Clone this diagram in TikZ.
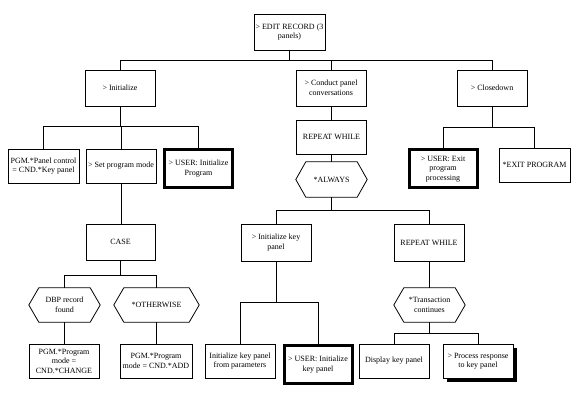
\documentclass[tikz,border=0pt]{standalone}
\usepackage{fontspec}
\setmainfont{Liberation Serif}
\usetikzlibrary{shadows}
\newcommand{\boxfont}{\fontsize{8}{9.5}\selectfont}
\tikzset{
  conn/.style={draw=black, line width=0.8pt},
  box/.style={draw=black, line width=0.8pt, fill=white, minimum width=70pt, minimum height=34pt,
    inner sep=1pt, align=center, font=\boxfont},
  thickbox/.style={draw=black, line width=3pt, fill=white, minimum width=68pt, minimum height=38pt,
    inner sep=1pt, align=center, font=\boxfont},
  hexbox/.style={draw=none, minimum width=71pt, minimum height=34pt, inner sep=1pt,
    align=center, font=\boxfont},
  shadowbox/.style={box, drop shadow={shadow xshift=4pt, shadow yshift=-4pt, fill=black, opacity=1}}
}
\begin{document}
\begin{tikzpicture}[x=1pt, y=-1pt]
\useasboundingbox[fill=white] (0,0) rectangle (580,403);

% level 0 / 1
\node[box, minimum width=71pt, minimum height=36pt, inner sep=0pt] (root) at (289.5,32) {> EDIT RECORD (3\\panels)};
\node[box, minimum height=36pt] (init) at (120,88) {> Initialize};
\node[box, minimum height=36pt] (conduct) at (331,88) {> Conduct panel\\conversations};
\node[box, minimum height=36pt] (closedown) at (492,88) {> Closedown};

% level 2
\node[box, minimum width=71pt] (pgmpanel) at (43.5,166) {PGM.*Panel control\\= CND.*Key panel};
\node[box] (setmode) at (121,166) {> Set program mode};
\node[thickbox] (userinit) at (198.5,168.5) {> USER: Initialize\\Program};
\node[box] (repeat1) at (331.5,137) {REPEAT WHILE};
\node[hexbox, minimum height=35pt] (always) at (331.5,179.5) {*ALWAYS};
\node[thickbox] (userexit) at (443,169) {> USER: Exit\\program\\processing};
\node[box, minimum width=71pt] (exitprog) at (534.5,165) {*EXIT PROGRAM};

% level 3
\node[box, minimum width=69pt, minimum height=36pt] (case) at (120.5,242) {CASE};
\node[hexbox] (dbp) at (64.5,305) {DBP record\\found};
\node[hexbox, minimum width=85pt] (other) at (156.5,305) {*OTHERWISE};
\node[box] (pgmchange) at (64,361) {PGM.*Program\\mode =\\CND.*CHANGE};
\node[box, minimum width=72pt] (pgmadd) at (156,361) {PGM.*Program\\mode = CND.*ADD};

\node[box, minimum height=37pt] (initkey) at (276,242.5) {> Initialize key\\panel};
\node[box, minimum height=37pt] (repeat2) at (429,242.5) {REPEAT WHILE};
\node[hexbox] (trans) at (429.5,305) {*Transaction\\continues};
\node[box] (initfrom) at (240,361) {Initialize key panel\\from parameters};
\node[thickbox] (userkey) at (318,364.5) {> USER: Initialize\\key panel};
\node[box] (display) at (394,361) {Display key panel};
\node[shadowbox] (process) at (478,361) {> Process response\\to key panel};

% hexagon outlines
\foreach \h in {always,dbp,other,trans}{
  \draw[conn] (\h.west) -- ([xshift=10pt]\h.north west) -- ([xshift=-10pt]\h.north east)
    -- (\h.east) -- ([xshift=-10pt]\h.south east) -- ([xshift=10pt]\h.south west) -- cycle;
}

% connectors
\foreach \c in {init,conduct,closedown}
  \draw[conn] (root.south) -- (root.south |- 0,60) -| (\c.north);
\foreach \c in {pgmpanel,setmode,userinit}
  \draw[conn] (init.south) -- (init.south |- 0,126) -| (\c.north);
\draw[conn] (conduct.south) -- (conduct.south |- repeat1.north);
\draw[conn] (repeat1.south) -- (repeat1.south |- always.north);
\foreach \c in {userexit,exitprog}
  \draw[conn] (closedown.south) -- (closedown.south |- 0,127.5) -| (\c.north);
\draw[conn] (setmode.south) -- (setmode.south |- case.north);
\foreach \c in {dbp,other}
  \draw[conn] (case.south) -- (case.south |- 0,275) -| (\c.north);
\draw[conn] (dbp.south) -- (dbp.south |- pgmchange.north);
\draw[conn] (other.south) -- (other.south |- pgmadd.north);
\foreach \c in {initkey,repeat2}
  \draw[conn] (always.south) -- (always.south |- 0,210) -| (\c.north);
\foreach \c in {initfrom,userkey}
  \draw[conn] (initkey.south) -- (initkey.south |- 0,302) -| (\c.north);
\draw[conn] (repeat2.south) -- (repeat2.south |- trans.north);
\foreach \c in {display,process}
  \draw[conn] (trans.south) -- (trans.south |- 0,333) -| (\c.north);
\end{tikzpicture}
\end{document}
